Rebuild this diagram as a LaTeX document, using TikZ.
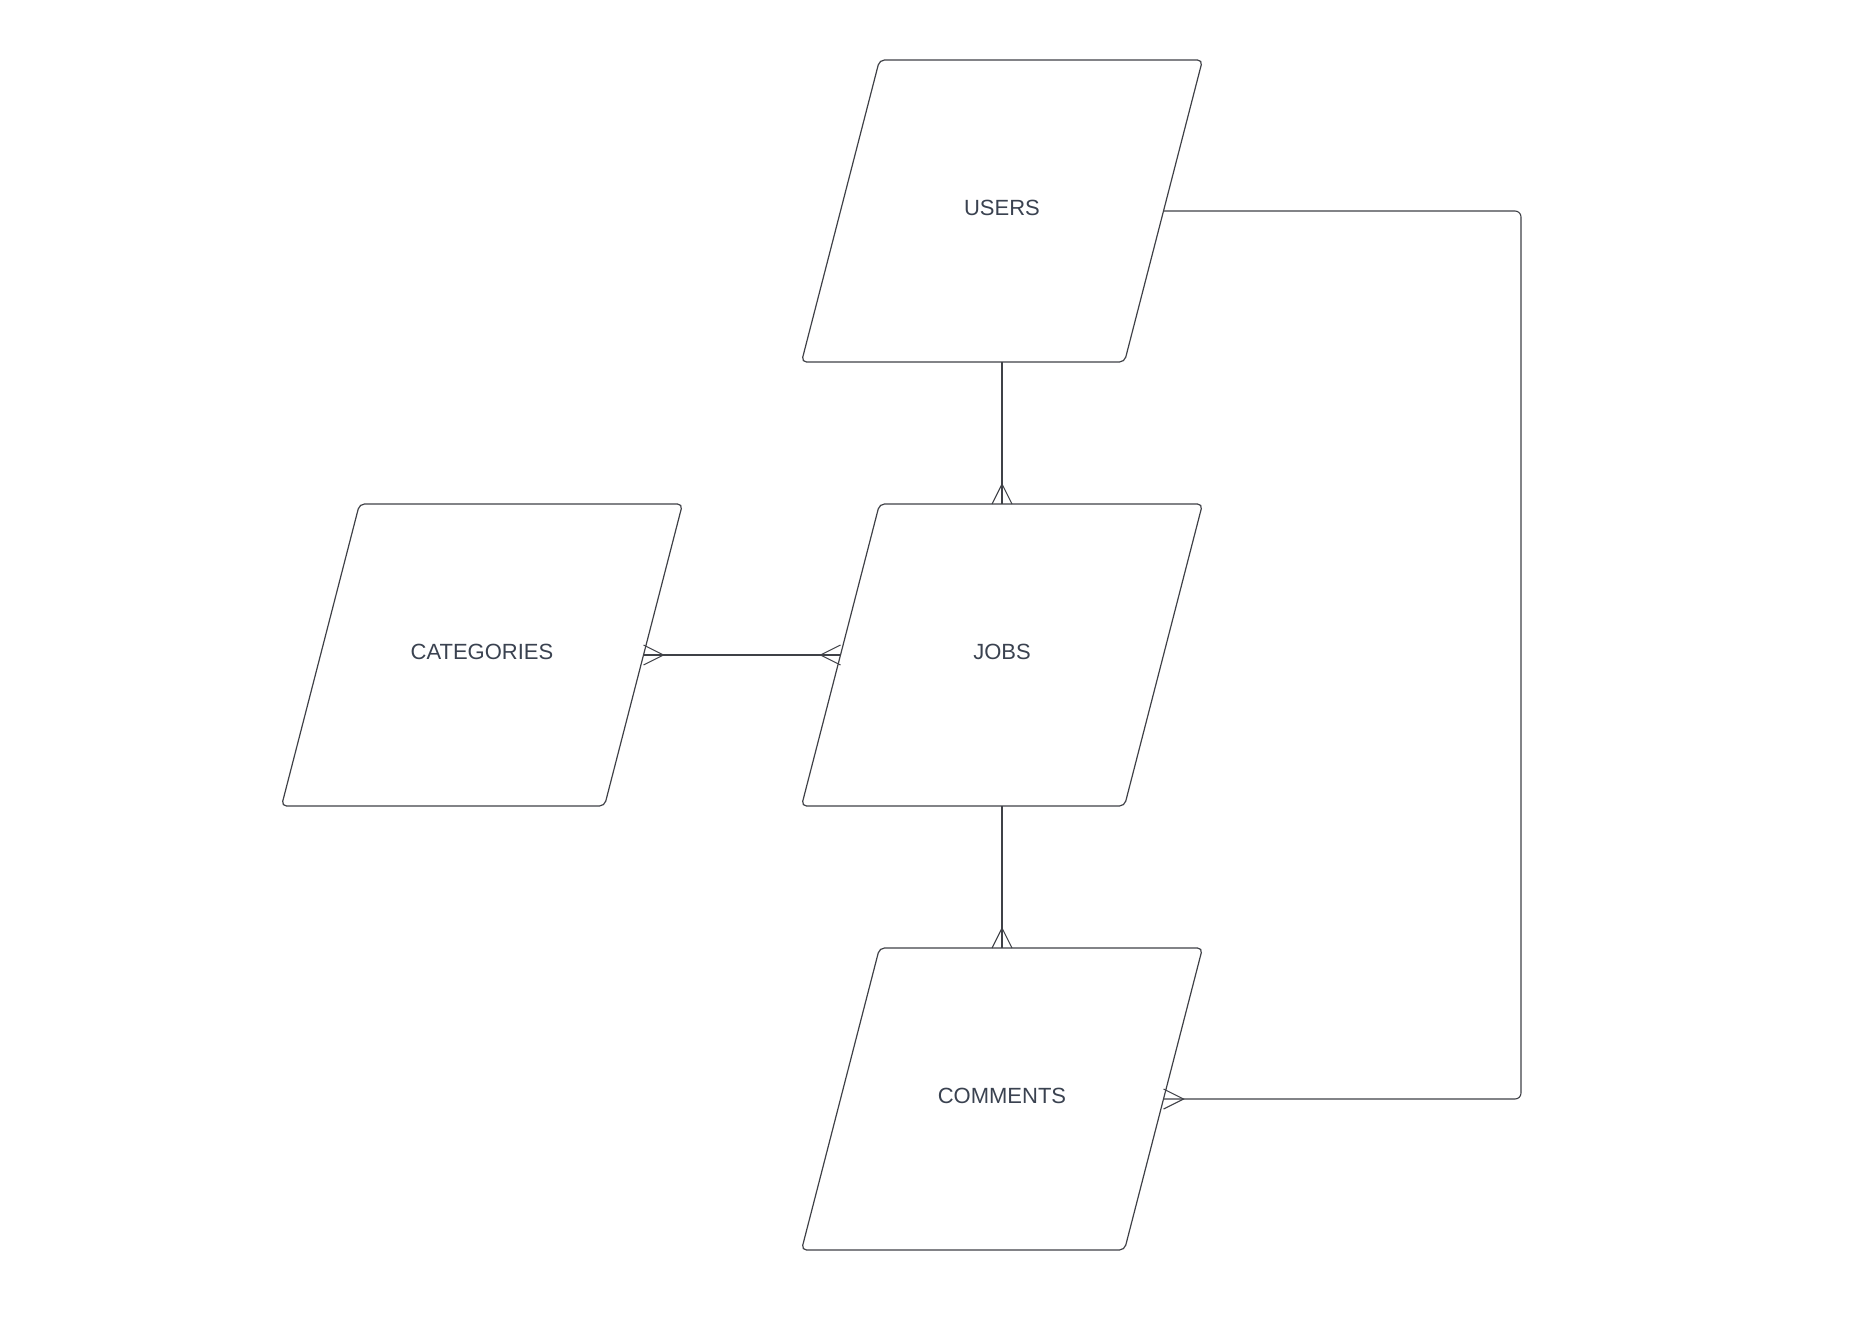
\documentclass[tikz,border=0pt]{standalone}
\usepackage{fontspec}
\setmainfont{Liberation Sans}
\usetikzlibrary{positioning}
\definecolor{edgegray}{HTML}{3F4147}
\definecolor{labelgray}{HTML}{3A4250}

\begin{document}
\begin{tikzpicture}[
        x=0.5pt, y=-0.5pt,
        entity/.style={
            rectangle,
            minimum width=161.5pt, minimum height=151pt,
            inner sep=0pt, outer sep=0pt, text depth=3.6pt,
            text=labelgray, font=\fontsize{11}{13}\selectfont,
            append after command={\pgfextra{
                \draw[draw=edgegray, line width=0.6pt, rounded corners=2.5pt]
                    ([xshift=19.5pt]\tikzlastnode.north west) -- ([xshift=19.5pt]\tikzlastnode.north east)
                    -- ([xshift=-19.5pt]\tikzlastnode.south east) -- ([xshift=-19.5pt]\tikzlastnode.south west)
                    -- cycle;}}
        },
        link/.style={draw=edgegray, line width=0.55pt},
        node distance=71pt and 98.5pt
    ]
    \useasboundingbox (0,0) rectangle (1870,1322);

    \node[entity] (users) at (1002,211) {USERS};
    \node[entity, below=of users] (jobs) {JOBS};
    \node[entity, below=of jobs] (comments) {COMMENTS};
    \node[entity, left=of jobs] (categories) {CATEGORIES};

    \coordinate (bend) at (1521,211);

    % users -> jobs
    \draw[link] (users) -- (jobs);
    \draw[link] ([xshift=-5pt]jobs.north) -- ([yshift=10pt]jobs.north) -- ([xshift=5pt]jobs.north);

    % jobs -> comments
    \draw[link] (jobs) -- (comments);
    \draw[link] ([xshift=-5pt]comments.north) -- ([yshift=10pt]comments.north) -- ([xshift=5pt]comments.north);

    % categories <-> jobs
    \draw[link] (categories) -- (jobs);
    \draw[link] ([yshift=5pt]categories.east) -- ([xshift=10pt]categories.east) -- ([yshift=-5pt]categories.east);
    \draw[link] ([yshift=5pt]jobs.west) -- ([xshift=-10pt]jobs.west) -- ([yshift=-5pt]jobs.west);

    % users -> comments
    \draw[link, rounded corners=3pt] (users.east) -- (bend) -- (bend |- comments.east) -- (comments.east);
    \draw[link] ([yshift=5pt]comments.east) -- ([xshift=10pt]comments.east) -- ([yshift=-5pt]comments.east);

\end{tikzpicture}
\end{document}
